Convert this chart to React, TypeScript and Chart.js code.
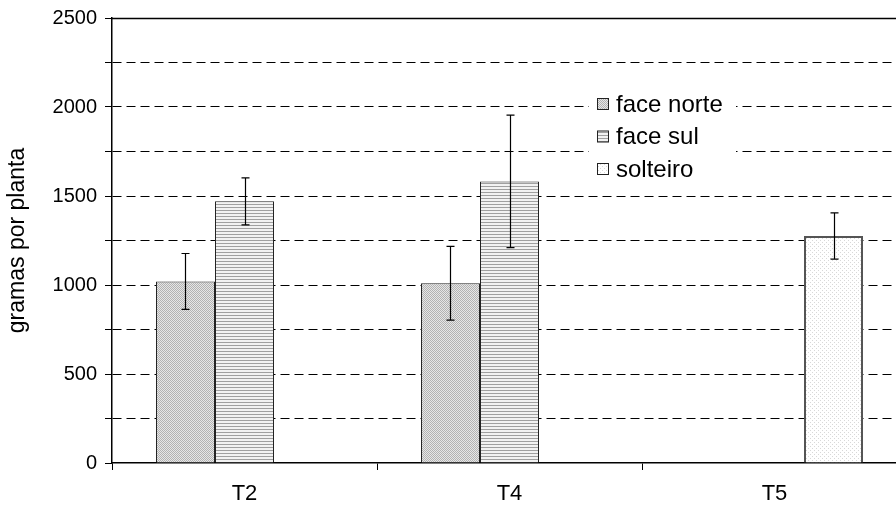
import React, { useEffect, useRef } from "react";
import { Chart, registerables } from "chart.js";

Chart.register(...registerables);

const categories = ["T2", "T4", "T5"];
const seriesNames = ["face norte", "face sul", "solteiro"];
const faceNorte = [1020, 1010, null];
const faceNorteErr = [157, 207, null];
const faceSul = [1470, 1582, null];
const faceSulErr = [132, 372, null];
const solteiro = [null, null, 1275];
const solteiroErr = [null, null, 130];
const yMax = 2500;
const yStep = 250;
const yLabelStep = 500;
const yTitle = "gramas por planta";

const FONT = "'Liberation Sans', Arial, sans-serif";

function makePattern(kind: string): CanvasPattern | string {
  const c = document.createElement("canvas");
  const size = kind === "dots" ? 4 : kind === "lines" ? 3 : 2;
  c.width = size;
  c.height = size;
  const g = c.getContext("2d");
  if (!g) return "#ccc";
  if (kind === "checker") {
    g.fillStyle = "#e6e6e6";
    g.fillRect(0, 0, 2, 2);
    g.fillStyle = "#b2b2b2";
    g.fillRect(0, 0, 1, 1);
    g.fillRect(1, 1, 1, 1);
  } else if (kind === "lines") {
    g.fillStyle = "#f2f2f2";
    g.fillRect(0, 0, 3, 3);
    g.fillStyle = "#a0a0a0";
    g.fillRect(0, 0, 3, 1);
  } else {
    g.fillStyle = "#ffffff";
    g.fillRect(0, 0, 4, 4);
    g.fillStyle = "#d8d8d8";
    g.fillRect(0, 0, 1, 1);
    g.fillRect(2, 2, 1, 1);
  }
  const p = g.createPattern(c, "repeat");
  return p || "#ccc";
}

export default function App() {
  const ref = useRef<HTMLCanvasElement | null>(null);

  useEffect(() => {
    const canvas = ref.current;
    if (!canvas) return;
    const pNorte = makePattern("checker");
    const pSul = makePattern("lines");
    const pSolteiro = makePattern("dots");
    const errs = [faceNorteErr, faceSulErr, solteiroErr];
    const patterns = [pNorte, pSul, pSolteiro];

    const framePlugin = {
      id: "frameTop",
      beforeDatasetsDraw(chart: any) {
        const { ctx, chartArea } = chart;
        ctx.save();
        ctx.strokeStyle = "#000";
        ctx.lineWidth = 1.5;
        ctx.beginPath();
        ctx.moveTo(chartArea.left, chartArea.top + 0.5);
        ctx.lineTo(chartArea.right, chartArea.top + 0.5);
        ctx.stroke();
        ctx.restore();
      },
    };

    const errorPlugin = {
      id: "errorBars",
      afterDatasetsDraw(chart: any) {
        const { ctx } = chart;
        const yScale = chart.scales.y;
        ctx.save();
        ctx.strokeStyle = "#000";
        ctx.lineWidth = 1.2;
        chart.data.datasets.forEach((ds: any, di: number) => {
          const meta = chart.getDatasetMeta(di);
          ds.data.forEach((v: number | null, i: number) => {
            const e = errs[di][i];
            if (v == null || e == null) return;
            const el = meta.data[i];
            const x = Math.round(el.x) + 0.5;
            const yTop = yScale.getPixelForValue(v + e);
            const yBot = yScale.getPixelForValue(v - e);
            ctx.beginPath();
            ctx.moveTo(x, yTop);
            ctx.lineTo(x, yBot);
            ctx.moveTo(x - 4, yTop);
            ctx.lineTo(x + 4, yTop);
            ctx.moveTo(x - 4, yBot);
            ctx.lineTo(x + 4, yBot);
            ctx.stroke();
          });
        });
        ctx.restore();
      },
    };

    const legendPlugin = {
      id: "boxLegend",
      afterDraw(chart: any) {
        const { ctx } = chart;
        ctx.save();
        ctx.fillStyle = "#ffffff";
        ctx.fillRect(589, 86, 147, 100);
        const ys = [104, 136.5, 169];
        seriesNames.forEach((name, i) => {
          const y = ys[i];
          ctx.fillStyle = patterns[i] as any;
          ctx.fillRect(597, y - 6, 12, 12);
          ctx.strokeStyle = "#222";
          ctx.lineWidth = 1;
          ctx.strokeRect(597.5, y - 5.5, 11, 11);
          ctx.fillStyle = "#000";
          ctx.font = `24px ${FONT}`;
          ctx.textBaseline = "middle";
          ctx.textAlign = "left";
          ctx.fillText(name, 616, y + 1);
        });
        ctx.restore();
      },
    };

    const chart = new Chart(canvas, {
      type: "bar",
      data: {
        labels: categories,
        datasets: [
          {
            label: seriesNames[0],
            data: faceNorte,
            backgroundColor: pNorte as any,
            borderColor: "#222",
            borderWidth: 1,
          },
          {
            label: seriesNames[1],
            data: faceSul,
            backgroundColor: pSul as any,
            borderColor: "#222",
            borderWidth: 1,
          },
          {
            label: seriesNames[2],
            data: solteiro,
            backgroundColor: pSolteiro as any,
            borderColor: "#555",
            borderWidth: 2,
          },
        ],
      },
      options: {
        responsive: false,
        animation: false,
        devicePixelRatio: 1,
        layout: { padding: { top: 18, right: 5, left: 0, bottom: 0 } },
        datasets: {
          bar: { categoryPercentage: 0.668, barPercentage: 1.0 },
        },
        plugins: {
          legend: { display: false },
          tooltip: { enabled: false },
        },
        scales: {
          x: {
            type: "category",
            offset: true,
            grid: {
              display: true,
              offset: true,
              drawOnChartArea: false,
              drawTicks: true,
              tickLength: 7,
              tickColor: "#000",
              tickWidth: 1,
            },
            border: { display: true, color: "#000", width: 1.5 },
            ticks: {
              color: "#000",
              font: { family: FONT, size: 22 },
              padding: 11,
              maxRotation: 0,
            },
            afterFit(scale: any) {
              scale.height = 45;
              scale.paddingLeft = 0;
              scale.paddingRight = 0;
            },
          },
          y: {
            min: 0,
            max: yMax,
            grid: {
              display: true,
              drawOnChartArea: true,
              drawTicks: true,
              tickLength: 7,
              tickColor: "#000",
              tickWidth: 1,
              lineWidth: 1,
              color: (c: any) =>
                c.tick && (c.tick.value === 0 || c.tick.value === yMax)
                  ? "rgba(0,0,0,0)"
                  : "#000",
            },
            border: {
              display: true,
              color: "#000",
              width: 1.5,
              dash: (c: any) => (c.type === "tick" ? [9, 5] : []),
            },
            ticks: {
              stepSize: yStep,
              color: "#000",
              font: { family: FONT, size: 20 },
              padding: 8,
              callback: (v: any) => (Number(v) % yLabelStep === 0 ? String(v) : ""),
            },
            title: {
              display: true,
              text: yTitle,
              color: "#000",
              font: { family: FONT, size: 23 },
              padding: { top: 4, bottom: 0 },
            },
            afterFit(scale: any) {
              scale.width = 112;
              scale.paddingTop = 0;
              scale.paddingBottom = 0;
            },
          },
        },
      },
      plugins: [framePlugin, errorPlugin, legendPlugin],
    } as any);

    return () => chart.destroy();
  }, []);

  return (
    <div
      style={{
        position: "fixed",
        left: 0,
        top: 0,
        width: 896,
        height: 508,
        overflow: "hidden",
        background: "#fff",
      }}
    >
      <canvas ref={ref} width={912} height={508} style={{ width: 912, height: 508, display: "block" }} />
    </div>
  );
}
